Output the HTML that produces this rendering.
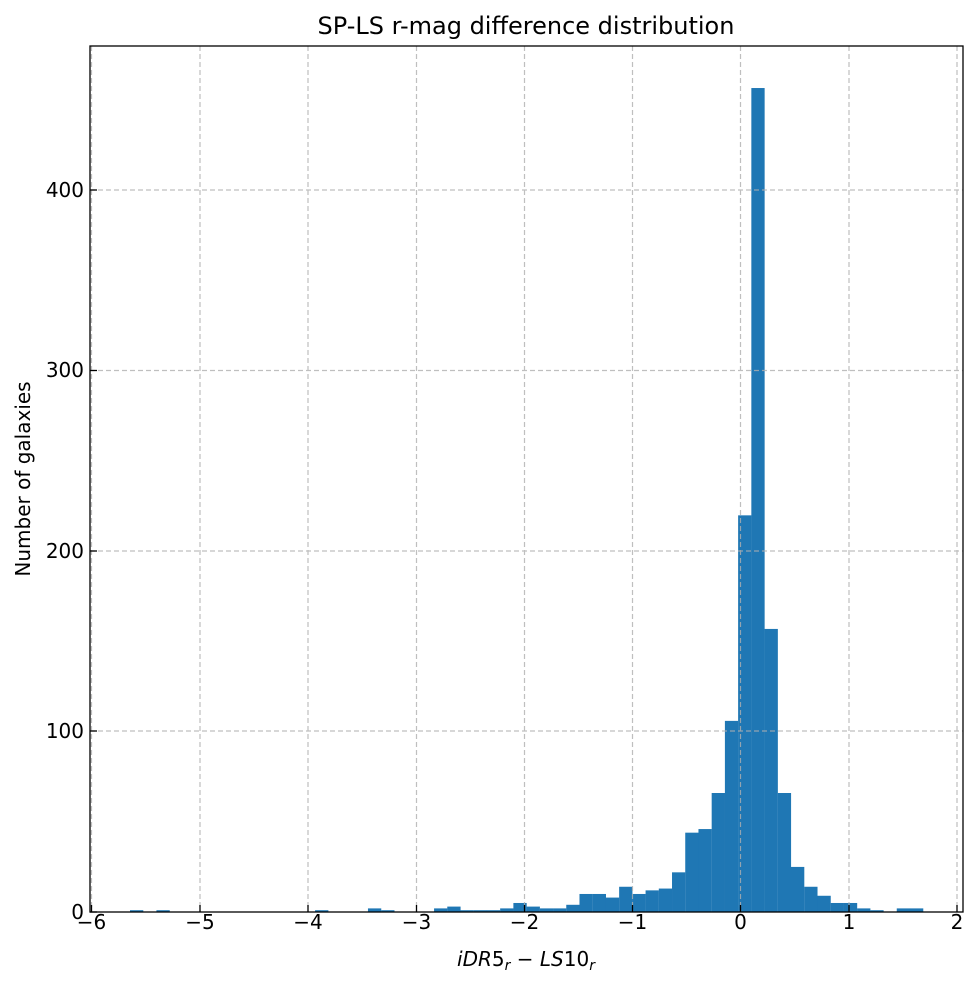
<!DOCTYPE html>
<html><head><meta charset="utf-8"><style>body{margin:0;background:#fff}svg{display:block}</style></head><body>
<svg width="978" height="986" xmlns="http://www.w3.org/2000/svg" font-family="DejaVu Sans, Liberation Sans, sans-serif">
<rect width="978" height="986" fill="#fff"/>
<g fill="#1f77b4">
<rect x="130" y="910.2" width="13.3" height="1.8"/>
<rect x="156.44" y="910.2" width="13.3" height="1.8"/>
<rect x="315.08" y="910.2" width="13.3" height="1.8"/>
<rect x="367.96" y="908.39" width="13.3" height="3.61"/>
<rect x="381.18" y="910.2" width="13.3" height="1.8"/>
<rect x="434.06" y="908.39" width="13.3" height="3.61"/>
<rect x="447.28" y="906.59" width="13.3" height="5.41"/>
<rect x="460.5" y="910.2" width="13.3" height="1.8"/>
<rect x="473.72" y="910.2" width="13.3" height="1.8"/>
<rect x="486.94" y="910.2" width="13.3" height="1.8"/>
<rect x="500.16" y="908.39" width="13.3" height="3.61"/>
<rect x="513.38" y="902.98" width="13.3" height="9.02"/>
<rect x="526.6" y="906.59" width="13.3" height="5.41"/>
<rect x="539.82" y="908.39" width="13.3" height="3.61"/>
<rect x="553.04" y="908.39" width="13.3" height="3.61"/>
<rect x="566.26" y="904.79" width="13.3" height="7.21"/>
<rect x="579.48" y="893.97" width="13.3" height="18.03"/>
<rect x="592.7" y="893.97" width="13.3" height="18.03"/>
<rect x="605.92" y="897.58" width="13.3" height="14.42"/>
<rect x="619.14" y="886.76" width="13.3" height="25.24"/>
<rect x="632.36" y="893.97" width="13.3" height="18.03"/>
<rect x="645.58" y="890.36" width="13.3" height="21.64"/>
<rect x="658.8" y="888.56" width="13.3" height="23.44"/>
<rect x="672.02" y="872.33" width="13.3" height="39.67"/>
<rect x="685.24" y="832.67" width="13.3" height="79.33"/>
<rect x="698.46" y="829.06" width="13.3" height="82.94"/>
<rect x="711.68" y="793" width="13.3" height="119"/>
<rect x="724.9" y="720.88" width="13.3" height="191.12"/>
<rect x="738.12" y="515.34" width="13.3" height="396.66"/>
<rect x="751.34" y="88.03" width="13.3" height="823.97"/>
<rect x="764.56" y="628.93" width="13.3" height="283.07"/>
<rect x="777.78" y="793" width="13.3" height="119"/>
<rect x="791" y="866.92" width="13.3" height="45.08"/>
<rect x="804.22" y="886.76" width="13.3" height="25.24"/>
<rect x="817.44" y="895.77" width="13.3" height="16.23"/>
<rect x="830.66" y="902.98" width="13.3" height="9.02"/>
<rect x="843.88" y="902.98" width="13.3" height="9.02"/>
<rect x="857.1" y="908.39" width="13.3" height="3.61"/>
<rect x="870.32" y="910.2" width="13.3" height="1.8"/>
<rect x="896.76" y="908.39" width="13.3" height="3.61"/>
<rect x="909.98" y="908.39" width="13.3" height="3.61"/>
</g>
<g stroke="#b0b0b0" stroke-width="1.2" stroke-dasharray="5,3" opacity="0.8">
<line x1="91.5" y1="46" x2="91.5" y2="912"/><line x1="200" y1="46" x2="200" y2="912"/><line x1="308" y1="46" x2="308" y2="912"/><line x1="416.5" y1="46" x2="416.5" y2="912"/><line x1="524.5" y1="46" x2="524.5" y2="912"/><line x1="632.5" y1="46" x2="632.5" y2="912"/><line x1="740.5" y1="46" x2="740.5" y2="912"/><line x1="849" y1="46" x2="849" y2="912"/><line x1="957" y1="46" x2="957" y2="912"/>
<line x1="90" y1="731" x2="963" y2="731"/><line x1="90" y1="551" x2="963" y2="551"/><line x1="90" y1="370.5" x2="963" y2="370.5"/><line x1="90" y1="190" x2="963" y2="190"/>
</g>
<rect x="90" y="46" width="873" height="866" fill="none" stroke="#000" stroke-width="1.3"/>
<g stroke="#000" stroke-width="1.3">
<line x1="91.5" y1="912" x2="91.5" y2="905"/><line x1="200" y1="912" x2="200" y2="905"/><line x1="308" y1="912" x2="308" y2="905"/><line x1="416.5" y1="912" x2="416.5" y2="905"/><line x1="524.5" y1="912" x2="524.5" y2="905"/><line x1="632.5" y1="912" x2="632.5" y2="905"/><line x1="740.5" y1="912" x2="740.5" y2="905"/><line x1="849" y1="912" x2="849" y2="905"/><line x1="957" y1="912" x2="957" y2="905"/>
<line x1="90" y1="912" x2="97" y2="912"/><line x1="90" y1="731" x2="97" y2="731"/><line x1="90" y1="551" x2="97" y2="551"/><line x1="90" y1="370.5" x2="97" y2="370.5"/><line x1="90" y1="190" x2="97" y2="190"/>
</g>
<g font-size="20" text-anchor="middle" fill="#000">
<text x="91.5" y="929">−6</text><text x="200" y="929">−5</text><text x="308" y="929">−4</text><text x="416.5" y="929">−3</text><text x="524.5" y="929">−2</text><text x="632.5" y="929">−1</text><text x="740.5" y="929">0</text><text x="849" y="929">1</text><text x="957" y="929">2</text>
</g>
<g font-size="20" text-anchor="end" fill="#000">
<text x="84" y="919">0</text><text x="84" y="738">100</text><text x="84" y="558">200</text><text x="84" y="377">300</text><text x="84" y="197">400</text>
</g>
<text x="526" y="34" font-size="24" text-anchor="middle">SP-LS r-mag difference distribution</text>
<text x="526" y="966" font-size="20" text-anchor="middle"><tspan font-style="italic">iDR</tspan>5<tspan font-size="14" dy="4" font-style="italic">r</tspan><tspan dy="-4"> − </tspan><tspan font-style="italic">LS</tspan>10<tspan font-size="14" dy="4" font-style="italic">r</tspan></text>
<text transform="translate(30,479) rotate(-90)" font-size="20" text-anchor="middle">Number of galaxies</text>
</svg>
</body></html>
